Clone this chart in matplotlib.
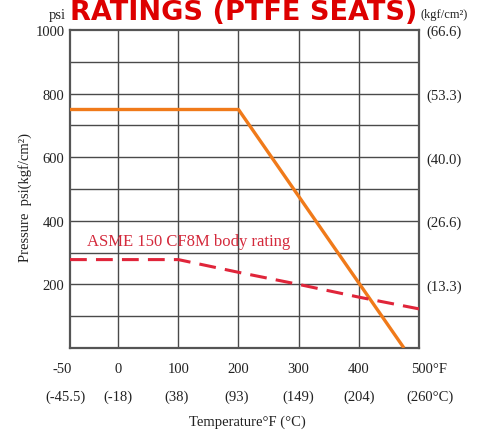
#!/usr/bin/env python3
''' Pressure / temperature rating chart for PTFE seated valves. '''

import numpy as np
import matplotlib
matplotlib.use('Agg')
import matplotlib.pyplot as plt
import matplotlib.transforms as mtransforms

# data
seat_temp = [-50, 200, 475]
seat_psi = [750, 750, 0]
body_temp = [-50, 100, 200, 300, 400, 500]
body_psi = [278, 278, 238, 200, 160, 123]

temp_f = [-50, 0, 100, 200, 300, 400, 500]
temp_f_labels = ['-50', '0', '100', '200', '300', '400', '500\u00b0F']
temp_c_labels = ['(-45.5)', '(-18)', '(38)', '(93)', '(149)', '(204)', '(260\u00b0C)']
psi_ticks = [200, 400, 600, 800, 1000]
kgf_labels = ['(13.3)', '(26.6)', '(40.0)', '(53.3)', '(66.6)']

plt.rcParams['font.family'] = ['Liberation Serif', 'DejaVu Serif']

def xpos(t):
    # the -50..0 step is drawn narrower than the 100 degree steps
    return np.interp(t, [-50, 0, 500], [-80, 0, 500])

def main():
    fig = plt.figure(figsize=(4.81, 4.31), dpi=100)
    W, H = 481.0, 431.0
    ax = fig.add_axes([70 / W, 1 - 349 / H, 349 / W, 318 / H])
    ax.set_xlim(-80, 500)
    ax.set_ylim(0, 1000)

    grid_c = '#4a4a4a'
    for t in temp_f[1:-1]:
        ax.axvline(xpos(t), color=grid_c, lw=1.0, zorder=1)
    for p in range(100, 1000, 100):
        ax.axhline(p, color=grid_c, lw=1.0, zorder=1)
    for s in ax.spines.values():
        s.set_color('#555555')
        s.set_linewidth(1.6)

    ax.plot(xpos(np.array(seat_temp)), seat_psi, color='#f07a1a', lw=2.4,
            solid_capstyle='butt', zorder=3)
    ax.plot(xpos(np.array(body_temp)), body_psi, color='#e0253a', lw=2.2,
            dashes=(5.5, 3), zorder=3)
    ax.text(xpos(-32), 335, 'ASME 150 CF8M body rating', color='#d42a3c',
            fontsize=12, va='center', ha='left', zorder=4)

    ax.set_xticks([])
    ax.set_yticks(psi_ticks)
    ax.set_yticklabels([str(p) for p in psi_ticks], fontsize=10.5, color='#222222')
    ax.tick_params(axis='y', length=0, pad=4)

    ax2 = ax.twinx()
    ax2.set_ylim(0, 1000)
    ax2.set_yticks(psi_ticks)
    ax2.set_yticklabels(kgf_labels, fontsize=10.5, color='#222222')
    ax2.tick_params(axis='y', length=0, pad=5)
    for s in ax2.spines.values():
        s.set_visible(False)

    # two rows of temperature labels under the axes
    trans = mtransforms.blended_transform_factory(ax.transData, ax.transAxes)
    nudge = {-50: (-8, -4), 500: (10, 11)}
    for t, lf, lc in zip(temp_f, temp_f_labels, temp_c_labels):
        d1, d2 = nudge.get(t, (0, 0))
        if t in (100, 200):
            d2 = -2
        ax.annotate(lf, xy=(xpos(t), 0), xycoords=trans, xytext=(d1, -21),
                    textcoords='offset pixels', ha='center', va='center',
                    fontsize=10.5, color='#222222')
        ax.annotate(lc, xy=(xpos(t), 0), xycoords=trans, xytext=(d2, -48),
                    textcoords='offset pixels', ha='center', va='center',
                    fontsize=10.5, color='#222222')

    fig.text(247 / W, 1 - 422 / H, 'Temperature\u00b0F (\u00b0C)', ha='center',
             va='center', fontsize=10.5, color='#222222')
    fig.text(25 / W, 1 - 197 / H, 'Pressure  psi(kgf/cm\u00b2)', rotation=90,
             ha='center', va='center', fontsize=10.5, color='#222222')
    fig.text(66 / W, 1 - 15 / H, 'psi', ha='right', va='center',
             fontsize=10.5, color='#222222')
    fig.text(421 / W, 1 - 15 / H, '(kgf/cm\u00b2)', ha='left', va='center',
             fontsize=9, color='#222222')

    # title hugs the top edge, as in the source image
    fig.text(244 / W, 1 - 20.5 / H, 'RATINGS (PTFE SEATS)', ha='center',
             va='baseline', fontsize=19.5, fontweight='bold', color='#dd0000',
             family='DejaVu Sans')

    fig.savefig('out.png', dpi=100)

if __name__ == '__main__':
    main()
